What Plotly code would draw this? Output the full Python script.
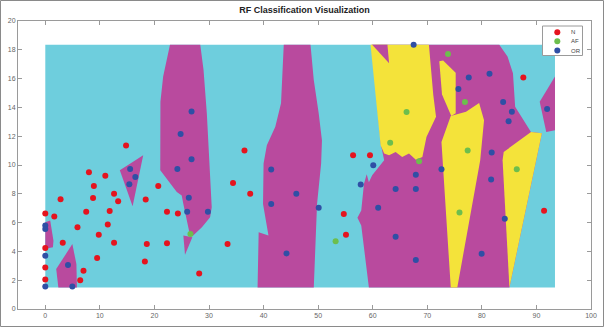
import plotly.graph_objects as go

# ---------------- data ----------------
class_names = ["N", "AF", "OR"]

n_x = [14.8, 8.0, 11.0, 8.9, 20.7, 12.6, 2.8, 8.75, 13.35, 18.4, 0, 1.65, 7.5, 11.8, 22.3, 24.3,
       5.9, 11.45, 9.8, 3.2, 12.6, 18.6, 22.3, 33.4, 0, 9.5, 18.25, 0, 7.0, 28.2, 0, 6.4,
       36.5, 34.4, 37.55, 56.4, 59.5, 54.7, 55.1, 87.6, 91.4]
n_y = [11.35, 9.5, 9.26, 8.54, 8.54, 8.0, 7.63, 7.7, 7.49, 7.6, 6.63, 6.42, 6.75, 6.8, 6.75, 6.63,
       5.67, 5.86, 5.16, 4.6, 4.6, 4.51, 4.56, 4.51, 4.23, 3.54, 3.3, 2.88, 2.65, 2.47, 2.05, 2.0,
       11.0, 8.75, 8.0, 10.68, 10.68, 6.6, 5.16, 16.07, 6.82]

af_x = [26.6, 63.2, 53.2, 73.8, 76.9, 66.2, 77.4, 68.5, 86.4, 75.9]
af_y = [5.21, 11.54, 4.7, 17.7, 14.38, 13.68, 11.0, 10.26, 9.7, 6.7]

or_x = [26.8, 24.8, 26.8, 24.2, 15.55, 16.5, 15.4, 26.3, 26.0, 29.8, 0, 0, 0, 4.16, 0, 4.96,
        41.4, 46.0, 41.4, 50.1, 44.2, 60.1, 57.8, 64.2, 61.0, 64.2, 67.5, 81.4, 77.6, 75.7,
        83.9, 85.5, 84.9, 91.96, 81.8, 72.6, 67.9, 67.9, 81.7, 84.2, 79.96, 67.9]
or_y = [13.72, 12.16, 10.4, 9.72, 9.72, 9.16, 8.67, 7.72, 6.75, 6.75, 5.8, 5.55, 3.7, 3.05, 1.56, 1.56,
        9.68, 8.0, 7.3, 7.03, 3.86, 9.98, 8.65, 8.33, 7.03, 5.02, 18.35, 16.33, 16.07, 15.28,
        14.38, 13.7, 13.03, 13.89, 10.86, 9.7, 9.33, 8.33, 9.0, 6.26, 3.84, 3.4]

# decision-region polygons (data units)
region_cyan = ([0, 93.4, 93.4, 0], [1.5, 1.5, 18.35, 18.35])

regions_magenta = [
    ([22.85, 21.6, 21.1, 21.07, 24.1, 25.0, 25.3, 25.8, 26.4, 27.1, 28.7, 30.2, 30.5, 29.6, 29.0, 28.4],
     [18.35, 16.14, 14.4, 9.63, 8.12, 7.89, 7.3, 6.37, 5.33, 5.1, 5.67, 6.37, 7.07, 13.6, 16.6, 18.35]),
    ([25.3, 26.95, 25.6], [5.1, 4.98, 3.77]),
    ([13.66, 17.94, 16.0], [9.63, 10.68, 7.14]),
    ([0, 0.9, 1.5, 1.4, 0], [6.02, 6.14, 4.74, 4.28, 4.19]),
    ([2.0, 4.96, 5.7, 5.8, 2.4], [2.77, 4.51, 3.12, 1.5, 1.5]),
    ([43.7, 43.2, 42.15, 40.6, 40.0, 39.9, 40.9, 39.1, 38.9, 49.2, 49.8, 50.55, 50.7, 50.1, 49.2, 48.6],
     [18.35, 14.28, 12.65, 11.37, 10.1, 7.3, 5.1, 5.33, 1.5, 1.5, 7.3, 10.1, 11.7, 13.6, 15.9, 18.35]),
    ([59.8, 83.2, 84.7, 85.7, 86.1, 87.5, 89.0, 91.0, 85.05, 59.3, 57.9, 57.2, 57.9, 58.4, 58.9, 59.3, 59.9, 62.1, 61.5],
     [18.35, 18.35, 17.54, 16.38, 14.05, 13.24, 12.3, 12.2, 1.5, 1.5, 5.79, 6.33, 6.84, 8.7, 9.35, 8.81, 9.28, 10.33, 11.4]),
    ([90.6, 93.4, 93.4, 91.8], [14.4, 16.14, 12.42, 12.3]),
]

regions_yellow = [
    ([59.6, 70.3, 71.1, 71.6, 69.85, 69.1, 67.9, 66.65, 65.4, 64.2, 63.0, 62.1, 61.45],
     [18.35, 18.35, 14.86, 13.35, 11.95, 10.56, 10.37, 10.8, 10.56, 10.9, 10.68, 10.8, 11.37]),
    ([72.2, 72.9, 75.2, 75.2, 74.4, 72.7], [17.2, 17.25, 16.4, 13.6, 13.4, 14.9]),
    ([74.3, 77.1, 79.5, 80.4, 79.7, 75.5, 74.3, 72.8, 72.6], [13.4, 13.7, 14.3, 13.1, 10.33, 1.5, 1.5, 10.33, 11.6]),
    ([84.0, 89.0, 91.0, 85.05, 83.8], [10.9, 12.3, 12.2, 1.5, 10.33]),
]

regions_magenta_top = [
    ([59.9, 62.7, 63.0], [18.35, 18.35, 17.07]),
]

# ---------------- style ----------------
C_CYAN = "#6ECEDD"
C_MAG = "#B94A9E"
C_YEL = "#F4E33A"
C_RED = "#E5141E"
C_GRN = "#6DBE4D"
C_BLU = "#2F4FA5"
FONT = "Arial, Liberation Sans, sans-serif"

fig = go.Figure()


def add_region(xs, ys, color):
    fig.add_trace(go.Scatter(x=xs, y=ys, mode="lines", fill="toself", fillcolor=color,
                             line=dict(width=0, color=color), hoverinfo="skip", showlegend=False))


add_region(region_cyan[0], region_cyan[1], C_CYAN)
for xs, ys in regions_magenta:
    add_region(xs, ys, C_MAG)
for xs, ys in regions_yellow:
    add_region(xs, ys, C_YEL)
for xs, ys in regions_magenta_top:
    add_region(xs, ys, C_MAG)

series = [(class_names[0], n_x, n_y, C_RED),
          (class_names[1], af_x, af_y, C_GRN),
          (class_names[2], or_x, or_y, C_BLU)]
for name, xs, ys, col in series:
    fig.add_trace(go.Scatter(x=xs, y=ys, mode="markers", name=name, showlegend=False,
                             marker=dict(size=6, color=col, line=dict(width=0))))

W, H = 605, 328
ML, MR, MT, MB = 18, 14, 21, 19
PW, PH = W - ML - MR, H - MT - MB

axis_common = dict(showgrid=False, zeroline=False, showline=True, linecolor="#9a9a9a", linewidth=1,
                   mirror="ticks", ticks="inside", ticklen=4, tickcolor="#9a9a9a", automargin=False,
                   tickfont=dict(size=7, color="#666666", family=FONT))

fig.update_layout(
    width=W, height=H,
    margin=dict(l=ML, r=MR, t=MT, b=MB, autoexpand=False),
    paper_bgcolor="white", plot_bgcolor="white",
    title=dict(text="<b>RF Classification Visualization</b>", x=0.5, xref="paper", xanchor="center",
               y=1 - 10 / H, yref="container", yanchor="middle", automargin=False,
               font=dict(size=9, color="#222222", family=FONT)),
    xaxis=dict(range=[-5, 100], tickmode="array", tickvals=list(range(0, 101, 10)), **axis_common),
    yaxis=dict(range=[0, 20], tickmode="array", tickvals=list(range(0, 21, 2)), **axis_common),
    showlegend=False,
)


def px2paper_x(px):
    return (px - ML) / PW


def px2paper_y(py):
    return 1 - (py - MT) / PH


# legend box (drawn manually, compact like the original)
fig.add_shape(type="rect", xref="paper", yref="paper",
              x0=px2paper_x(542.5), x1=px2paper_x(582.5), y0=px2paper_y(55.5), y1=px2paper_y(26),
              line=dict(color="#9a9a9a", width=1), fillcolor="white", layer="above")
leg_rows = [32.3, 41.3, 50.5]
for (name, _, _, col), row in zip(series, leg_rows):
    fig.add_shape(type="circle", xref="paper", yref="paper", xsizemode="pixel", ysizemode="pixel",
                  xanchor=px2paper_x(557.3), yanchor=px2paper_y(row), x0=-3, x1=3, y0=-3, y1=3,
                  fillcolor=col, line=dict(width=0), layer="above")
    fig.add_annotation(text=name, xref="paper", yref="paper", x=px2paper_x(568.5), y=px2paper_y(row),
                       xanchor="left", yanchor="middle", showarrow=False,
                       font=dict(size=6, color="#444444", family=FONT))

# outer figure border
fig.add_shape(type="rect", xref="paper", yref="paper",
              x0=px2paper_x(0.5), x1=px2paper_x(W - 1.5), y0=px2paper_y(H - 1.5), y1=px2paper_y(0.5),
              line=dict(color="#8a8a8a", width=1), fillcolor="rgba(0,0,0,0)", layer="above")

fig.write_html("out.html", config={"displayModeBar": False},
               post_script="document.body.style.margin='0';document.body.style.overflow='hidden';")
